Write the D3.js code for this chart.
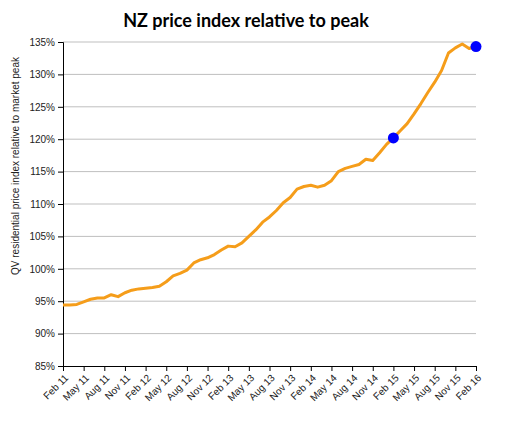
<!DOCTYPE html>
<html>
<head>
<meta charset="utf-8">
<script src="https://cdn.jsdelivr.net/npm/d3@7"></script>
<style>
  body { margin: 0; background: #fff; }
  text { font-family: "Liberation Sans", Arial, sans-serif; }
</style>
</head>
<body>
<script>
// Monthly index values, Feb 11 .. Feb 16 (percent of market peak)
const values = [
  94.4, 94.4, 94.5, 94.9, 95.3, 95.5, 95.5, 96.0, 95.7, 96.3,
  96.7, 96.9, 97.0, 97.1, 97.3, 98.0, 98.9, 99.3, 99.8, 100.9,
  101.4, 101.7, 102.2, 102.9, 103.5, 103.4, 104.0, 105.0, 106.0, 107.2,
  108.0, 109.0, 110.2, 111.0, 112.3, 112.7, 112.9, 112.6, 112.9, 113.6,
  115.0, 115.5, 115.8, 116.1, 116.9, 116.7, 117.9, 119.2, 120.2, 121.3,
  122.4, 123.9, 125.5, 127.2, 128.8, 130.6, 133.3, 134.1, 134.7, 134.0,
  134.3
];
// Quarterly tick labels
const tickLabels = ["Feb 11", "May 11", "Aug 11", "Nov 11", "Feb 12", "May 12", "Aug 12", "Nov 12",
  "Feb 13", "May 13", "Aug 13", "Nov 13", "Feb 14", "May 14", "Aug 14", "Nov 14",
  "Feb 15", "May 15", "Aug 15", "Nov 15", "Feb 16"];
// Highlighted months (index into values)
const markers = [48, 60];
const yTicks = [85, 90, 95, 100, 105, 110, 115, 120, 125, 130, 135];

const width = 529, height = 423;
const margin = {left: 63, right: 53, top: 42, bottom: 57};

const svg = d3.select("body").append("svg")
  .attr("width", width)
  .attr("height", height);

const x = d3.scaleLinear()
  .domain([0, values.length - 1])
  .range([margin.left, width - margin.right]);
const y = d3.scaleLinear()
  .domain([85, 135])
  .range([height - margin.bottom, margin.top]);

// Title
svg.append("text")
  .attr("x", 246)
  .attr("y", 27)
  .attr("text-anchor", "middle")
  .style("font-family", "Lato, sans-serif")
  .style("font-weight", "bold")
  .style("font-size", "18px")
  .text("NZ price index relative to peak");

// Gridlines
svg.append("g")
  .selectAll("line")
  .data(yTicks.slice(1))
  .enter()
  .append("line")
  .attr("x1", margin.left)
  .attr("x2", width - margin.right)
  .attr("y1", d => y(d))
  .attr("y2", d => y(d))
  .attr("stroke", "#bfbfbf")
  .attr("stroke-width", 1);

// Y axis
const yAxis = d3.axisLeft(y)
  .tickValues(yTicks)
  .tickSize(5)
  .tickPadding(3)
  .tickFormat(d => d + "%");
const yG = svg.append("g")
  .attr("transform", "translate(" + margin.left + ",0)")
  .call(yAxis);

// X axis
const xAxis = d3.axisBottom(x)
  .tickValues(d3.range(0, values.length, 3))
  .tickSize(5)
  .tickFormat((d, i) => tickLabels[i]);
const xG = svg.append("g")
  .attr("transform", "translate(0," + (height - margin.bottom) + ")")
  .call(xAxis);
xG.selectAll("text")
  .attr("text-anchor", "end")
  .attr("x", 0)
  .attr("y", 0)
  .attr("dy", "0.35em")
  .attr("transform", "translate(3,10) rotate(-45)");

[yG, xG].forEach(g => {
  g.select(".domain").attr("stroke", "#000");
  g.selectAll(".tick line").attr("stroke", "#000");
  g.selectAll("text").style("font-size", "10px").attr("fill", "#222");
});

// Y axis title
svg.append("text")
  .attr("transform", "translate(19,166) rotate(-90)")
  .attr("text-anchor", "middle")
  .style("font-size", "10px")
  .attr("fill", "#222")
  .text("QV residential price index relative to market peak");

// Line
const line = d3.line()
  .x((d, i) => x(i))
  .y(d => y(d));
svg.append("path")
  .datum(values)
  .attr("d", line)
  .attr("fill", "none")
  .attr("stroke", "#f59d1a")
  .attr("stroke-width", 3)
  .attr("stroke-linejoin", "round");

// Markers
svg.selectAll("circle")
  .data(markers)
  .enter()
  .append("circle")
  .attr("cx", d => x(d))
  .attr("cy", d => y(values[d]))
  .attr("r", 5.5)
  .attr("fill", "#0000ff");
</script>
</body>
</html>
